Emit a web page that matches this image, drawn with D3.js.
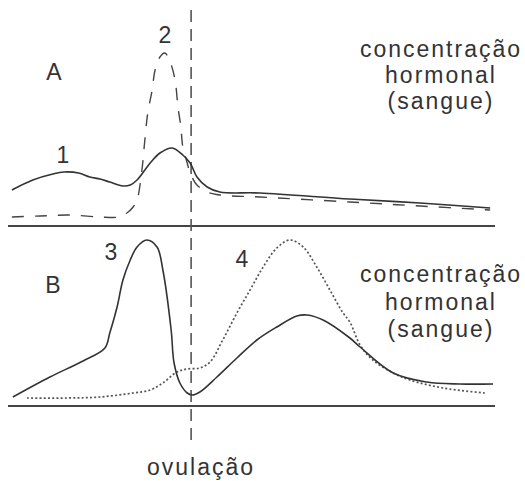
<!DOCTYPE html>
<html><head><meta charset="utf-8">
<script src="https://cdn.jsdelivr.net/npm/d3@7"></script>
<style>
html,body{margin:0;padding:0;background:#fff;}
svg{display:block;}
text{font-family:"Liberation Sans",Arial,sans-serif;fill:#333;}
</style></head>
<body>
<svg id="chart" width="525" height="481"></svg>
<script>
// x: position in cycle (0-100), y: relative concentration (0-100)
const ovulation = 37.6;
const hormone1 = [[0.8,18],[5.1,23],[9.2,26],[11.5,27],[14.5,26.5],[16.8,24.5],[18.9,23.5],[20.9,22],[23.6,20],[25.1,20.5],[26.5,23],[29.2,31.5],[31.2,36.5],[33.7,39],[35.9,35.5],[37.4,31.5],[38.8,24.5],[40.9,19.5],[43.5,17],[51.7,16.5],[70.2,13.5],[84.6,11.5],[99.0,9]];
const hormone2 = [[0.8,4.5],[6.6,5],[12.7,5.5],[18.9,4.5],[22.6,4.5],[24.4,6.5],[25.7,9.5],[26.5,13],[27.5,28],[28.1,43],[28.7,56.5],[29.6,68],[30.2,78],[31.2,84.5],[32.2,86.5],[33.3,82],[34.3,73],[34.9,59.5],[35.5,49.5],[35.9,39.5],[36.8,31.5],[37.4,26.5],[38.8,20.5],[40.9,17],[43.5,15.5],[51.7,14.5],[70.2,12],[84.6,10],[99.0,8]];
const hormone3 = [[1.0,4.5],[8.6,14.5],[15.4,22.5],[19.9,29],[20.9,36.5],[22.4,49.5],[23.6,63],[25.1,73],[26.5,79.5],[28.5,83],[30.6,79.5],[31.8,68],[33.5,38],[34.1,21.5],[35.3,11.5],[36.8,6.5],[37.8,5.5],[39.4,7],[42.9,14.5],[47.0,24],[51.1,33],[55.2,39.5],[59.3,45],[61.4,45.5],[64.7,43],[70.2,34],[72.3,29.5],[79.1,16.5],[86.0,12],[92.8,11],[99.6,11]];
const hormone4 = [[3.9,4],[12.1,4],[18.9,4.5],[25.7,6.5],[29.2,8],[31.8,11.5],[34.7,17],[36.8,18.5],[39.4,19],[41.5,22],[44.1,33],[47.0,46.5],[49.7,58],[52.4,69.5],[55.2,79],[57.9,83],[60.6,79.5],[63.4,69.5],[66.1,58],[68.8,46.5],[70.2,42],[72.3,30.5],[74.9,23],[79.1,16.5],[82.5,13],[89.3,9],[97.9,6.5]];
const panelLabels = ["A","B"];
const curveLabels = ["1","2","3","4"];
const axisTitle = ["concentração","hormonal","(sangue)"];
const xTitle = "ovulação";

const svg = d3.select("#chart");
const x = d3.scaleLinear().domain([0,100]).range([8,495]);
const yA = d3.scaleLinear().domain([0,100]).range([226,26]);
const yB = d3.scaleLinear().domain([0,100]).range([406,206]);

function draw(data, y, dash, color, width){
  const line = d3.line().x(d=>x(d[0])).y(d=>y(d[1])).curve(d3.curveCatmullRom.alpha(0.5));
  svg.append("path").datum(data).attr("d",line)
    .attr("fill","none").attr("stroke",color).attr("stroke-width",width)
    .attr("stroke-dasharray",dash);
}

// baselines
[[yA,0],[yB,0]].forEach(([y,v])=>{
  svg.append("line").attr("x1",x(0)).attr("x2",x(100)).attr("y1",y(v)).attr("y2",y(v))
    .attr("stroke","#444").attr("stroke-width",1.8);
});

// ovulation line
svg.append("line").attr("x1",x(ovulation)).attr("x2",x(ovulation)).attr("y1",10).attr("y2",444)
  .attr("stroke","#555").attr("stroke-width",1.6).attr("stroke-dasharray","12,7");

draw(hormone2, yA, "12,11", "#444", 1.4);
draw(hormone1, yA, null, "#333", 1.6);
draw(hormone4, yB, "2,2.2", "#555", 1.7);
draw(hormone3, yB, null, "#333", 1.6);

function txt(s,xp,yp,anchor){
  svg.append("text").attr("x",xp).attr("y",yp).attr("text-anchor",anchor||"middle")
    .attr("font-size",23).text(s);
}
txt(panelLabels[0],54,80);
txt(panelLabels[1],53,293);
txt(curveLabels[0],63,163);
txt(curveLabels[1],165,43);
txt(curveLabels[2],111,260);
txt(curveLabels[3],242,267);

function block(ys){
  axisTitle.forEach((s,i)=>{
    svg.append("text").attr("x",441).attr("y",ys[i]).attr("text-anchor","middle")
      .attr("font-size",23).attr("letter-spacing","2px").text(s);
  });
}
block([57,83,109]);
block([282,310,337]);
svg.append("text").attr("x",201).attr("y",475).attr("text-anchor","middle")
  .attr("font-size",23).attr("letter-spacing","2px").text(xTitle);
</script>
</body></html>
